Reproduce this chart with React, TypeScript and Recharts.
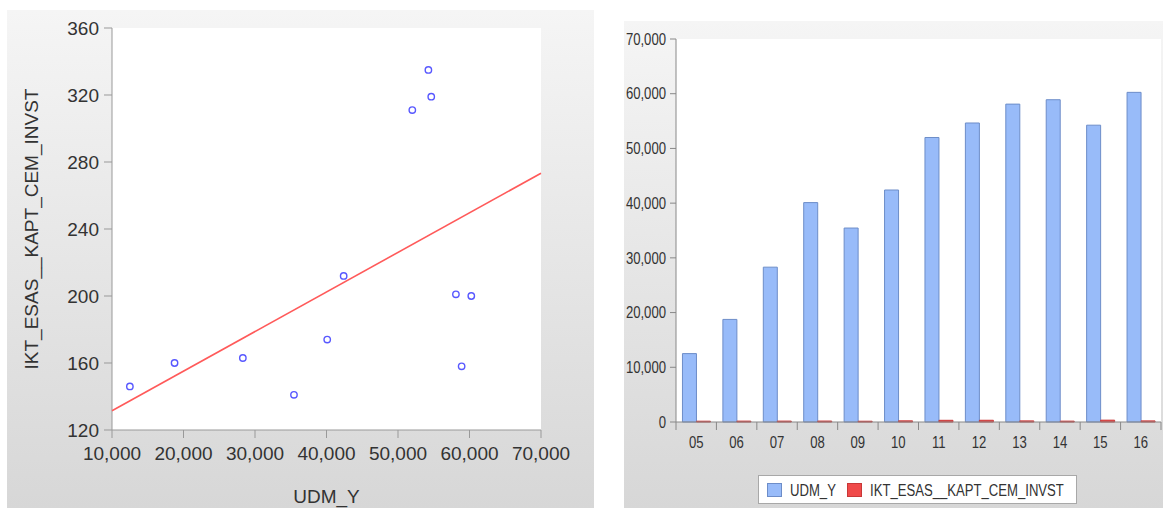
import React from 'react';
import {
  ScatterChart,
  Scatter,
  BarChart,
  Bar,
  XAxis,
  YAxis,
  CartesianGrid,
  Legend
} from 'recharts';

const years = ['05', '06', '07', '08', '09', '10', '11', '12', '13', '14', '15', '16'];
const udmY = [12500, 18750, 28300, 40100, 35450, 42400, 52000, 54650, 58100, 58900, 54250, 60250];
const iktInvst = [146, 160, 163, 174, 141, 212, 311, 319, 201, 158, 335, 200];
const seriesNames = ['UDM_Y', 'IKT_ESAS__KAPT_CEM_INVST'];

// fitted line at both ends of the x range
const fitX = [10000, 70000];
const fitY = [131.5, 273.3];

const udmTicks = [10000, 20000, 30000, 40000, 50000, 60000, 70000];
const iktTicks = [120, 160, 200, 240, 280, 320, 360];
const barTicks = [0, 10000, 20000, 30000, 40000, 50000, 60000, 70000];

const rows = years.map((year, i) => ({ year, udm: udmY[i], ikt: iktInvst[i] }));
const fitRows = fitX.map((x, i) => ({ udm: x, ikt: fitY[i] }));

const fmt = (v: number) => v.toLocaleString('en-US');

const SANS = '"Liberation Sans", Arial, sans-serif';
const SQUEEZE = 0.82; // the right panel uses a condensed face
const panelBg = 'linear-gradient(#f5f5f5, #d7d7d7)';

function NarrowText({ x, y, anchor, dy, children }: any) {
  return (
    <text
      transform={`translate(${x},${y}) scale(${SQUEEZE},1)`}
      x={0}
      y={0}
      dy={dy}
      textAnchor={anchor}
      fill="#333"
      fontSize={16}
      fontFamily={SANS}
    >
      {children}
    </text>
  );
}

function YearTick(props: any) {
  const { x, y, payload, index, width, visibleTicksCount } = props;
  const count = visibleTicksCount || 12;
  const band = (width || 484) / count;
  const axisY = y - 15;
  const left = x - band / 2;
  return (
    <g>
      <line x1={left} x2={left} y1={axisY} y2={axisY + 8} stroke="#888" />
      {index === count - 1 && (
        <line x1={left + band} x2={left + band} y1={axisY} y2={axisY + 8} stroke="#888" />
      )}
      <NarrowText x={x} y={y} anchor="middle" dy="0.71em">
        {payload.value}
      </NarrowText>
    </g>
  );
}

function ValueTick(props: any) {
  const { x, y, payload } = props;
  return (
    <NarrowText x={x} y={y} anchor="end" dy="0.355em">
      {fmt(payload.value)}
    </NarrowText>
  );
}

function BarLegend(props: any) {
  const items = [...(props.payload || [])].sort(
    (a: any, b: any) => seriesNames.indexOf(a.value) - seriesNames.indexOf(b.value)
  );
  const slots = [9, 89];
  return (
    <svg width={319} height={29} style={{ display: 'block' }}>
      <rect x={0.5} y={0.5} width={318} height={28} fill="#fff" stroke="#a8a8a8" />
      {items.map((it: any, i: number) => (
        <g key={it.value}>
          <rect
            x={slots[i] + 0.5}
            y={8.5}
            width={14}
            height={13}
            fill={it.color}
            stroke={it.payload?.stroke || '#777'}
          />
          <NarrowText x={slots[i] + 23} y={20.5} anchor="start">
            {it.value}
          </NarrowText>
        </g>
      ))}
    </svg>
  );
}

export default function App() {
  return (
    <div style={{ position: 'absolute', left: 0, top: 0, width: 1163, height: 508, background: '#fff' }}>
      <div style={{ position: 'absolute', left: 7, top: 10, width: 587, height: 498, background: panelBg }}>
        <ScatterChart width={587} height={498} margin={{ top: 18, right: 53, left: 0, bottom: 0 }}>
          <CartesianGrid horizontal={false} vertical={false} fill="#fff" />
          <XAxis
            type="number"
            dataKey="udm"
            domain={[10000, 70000]}
            ticks={udmTicks}
            tickFormatter={fmt}
            interval={0}
            height={78}
            tickSize={8}
            tickMargin={9}
            axisLine={{ stroke: '#999' }}
            tickLine={{ stroke: '#999' }}
            tick={{ fill: '#333', fontSize: 19, fontFamily: SANS }}
            label={{
              value: 'UDM_Y',
              position: 'insideBottom',
              offset: 5,
              fill: '#333',
              fontSize: 19,
              fontFamily: SANS
            }}
          />
          <XAxis
            xAxisId="top"
            orientation="top"
            type="number"
            domain={[10000, 70000]}
            height={0}
            tick={false}
            tickLine={false}
            axisLine={{ stroke: '#aaa' }}
          />
          <YAxis
            type="number"
            dataKey="ikt"
            domain={[120, 360]}
            ticks={iktTicks}
            interval={0}
            width={105}
            tickSize={8}
            tickMargin={5}
            axisLine={{ stroke: '#999' }}
            tickLine={{ stroke: '#999' }}
            tick={{ fill: '#333', fontSize: 19, fontFamily: SANS }}
            label={{
              value: 'IKT_ESAS__KAPT_CEM_INVST',
              angle: -90,
              position: 'insideLeft',
              offset: 24,
              fill: '#333',
              fontSize: 19,
              fontFamily: SANS,
              style: { textAnchor: 'middle' }
            }}
          />
          <YAxis
            yAxisId="right"
            orientation="right"
            type="number"
            domain={[120, 360]}
            width={0}
            tick={false}
            tickLine={false}
            axisLine={{ stroke: '#aaa' }}
          />
          <Scatter
            data={fitRows}
            dataKey="ikt"
            line={{ stroke: '#ff5a5a', strokeWidth: 1.6 }}
            shape={() => <g />}
            isAnimationActive={false}
          />
          <Scatter
            data={rows}
            dataKey="ikt"
            shape={(p: any) => (
              <circle cx={p.cx} cy={p.cy} r={3.2} fill="none" stroke="#5858ff" strokeWidth={1.4} />
            )}
            isAnimationActive={false}
          />
        </ScatterChart>
      </div>

      <div style={{ position: 'absolute', left: 624, top: 21, width: 539, height: 487, background: panelBg }}>
        <BarChart
          width={539}
          height={487}
          data={rows}
          margin={{ top: 18, right: 2, left: 0, bottom: 0 }}
          barCategoryGap="16%"
          barGap={0}
        >
          <CartesianGrid horizontal={false} vertical={false} fill="#fff" />
          <XAxis
            dataKey="year"
            interval={0}
            height={57}
            tickSize={8}
            tickMargin={7}
            tickLine={false}
            axisLine={{ stroke: '#888' }}
            tick={<YearTick />}
          />
          <XAxis
            xAxisId="top"
            orientation="top"
            dataKey="year"
            height={0}
            tick={false}
            tickLine={false}
            axisLine={{ stroke: '#a0a0a0' }}
          />
          <YAxis
            domain={[0, 70000]}
            ticks={barTicks}
            interval={0}
            width={52}
            tickSize={6}
            tickMargin={4}
            axisLine={{ stroke: '#888' }}
            tickLine={{ stroke: '#888' }}
            tick={<ValueTick />}
          />
          <YAxis
            yAxisId="right"
            orientation="right"
            domain={[0, 70000]}
            width={0}
            tick={false}
            tickLine={false}
            axisLine={{ stroke: '#a0a0a0' }}
          />
          <Legend
            verticalAlign="bottom"
            content={<BarLegend />}
            wrapperStyle={{ left: 134, width: 319, bottom: 4 }}
          />
          <Bar
            dataKey="udm"
            name={seriesNames[0]}
            fill="#98bbf9"
            stroke="#6d8dc8"
            strokeWidth={1}
            isAnimationActive={false}
          />
          <Bar
            dataKey="ikt"
            name={seriesNames[1]}
            fill="#f04a4a"
            stroke="#c83838"
            strokeWidth={1}
            isAnimationActive={false}
          />
        </BarChart>
      </div>
    </div>
  );
}
